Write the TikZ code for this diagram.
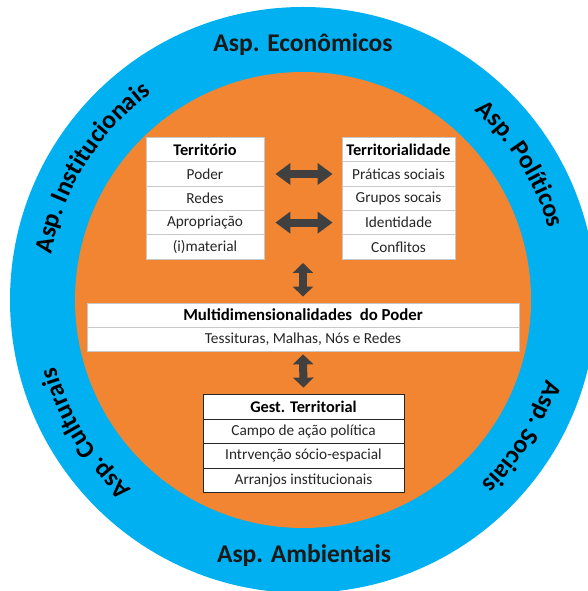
\documentclass[tikz,border=0pt]{standalone}
\usepackage{fontspec}
\setmainfont{Carlito}
\usetikzlibrary{arrows.meta,decorations.text}
\definecolor{ringblue}{HTML}{00B0F0}
\definecolor{coreorange}{HTML}{F28532}
\definecolor{arrowgray}{HTML}{404040}
\definecolor{lightborder}{HTML}{C8C8C8}
\newcommand\curvefont{\fontsize{25.5}{25.5}\selectfont\bfseries}
\tikzset{
  cell/.style={rectangle, draw=lightborder, line width=0.8pt, fill=white, inner sep=0pt,
    font=\fontsize{15.3}{16}\selectfont, text=black!85},
  headcell/.style={cell, font=\fontsize{16.3}{17}\selectfont\bfseries, text=black},
  darkcell/.style={cell, draw=black!85},
  darkhead/.style={headcell, draw=black!85},
  dblarrow/.style={arrowgray, line width=8pt,
    {Triangle[width=21pt,length=15pt]}-{Triangle[width=21pt,length=15pt]}},
  vdblarrow/.style={arrowgray, line width=8pt,
    {Triangle[width=20pt,length=10pt]}-{Triangle[width=20pt,length=10pt]}},
  ringlabel/.style={font=\fontsize{25.5}{25.5}\selectfont\bfseries, text=black!90},
}
\begin{document}
\begin{tikzpicture}[x=1pt,y=1pt]
\useasboundingbox (0,0) rectangle (587,591);
\fill[white] (0,0) rectangle (587,591);
% rings
\fill[ringblue] (303,291) circle[radius=293];
\fill[coreorange] (303,291) circle[radius=228];
% straight ring labels
\node[ringlabel] (econ) at (303,546) {Asp. Econômicos};
\node[ringlabel] (amb) at (304,35) {Asp. Ambientais};
% curved ring labels
\begin{scope}[shift={(303,291)}]
\path[decorate, decoration={text along path, text align=center,
  text={|\curvefont|Asp. Institucionais}}] (198:256) arc[start angle=198, end angle=98, radius=256];
\path[decorate, decoration={text along path, text align=center,
  text={|\curvefont|Asp. Políticos}}] (82:256) arc[start angle=82, end angle=-18, radius=256];
\path[decorate, decoration={text along path, text align=center,
  text={|\curvefont|Asp. Sociais}}] (18:256) arc[start angle=18, end angle=-82, radius=256];
\path[decorate, decoration={text along path, text align=center,
  text={|\curvefont|Asp. Culturais}}] (261.5:256) arc[start angle=261.5, end angle=161.5, radius=256];
\end{scope}
% Territorio box
\begin{scope}[every node/.append style={minimum width=118}]
\node[headcell, minimum height=25] (t0) at (205,441.5) {Território};
\node[cell, minimum height=24.3] (t1) at (205,417) {Poder};
\node[cell, minimum height=24.3] (t2) at (205,392.7) {Redes};
\node[cell, minimum height=24.3] (t3) at (205,368.4) {Apropriação};
\node[cell, minimum height=24.3] (t4) at (205,344.1) {(i)material};
\end{scope}
% Territorialidade box
\begin{scope}[every node/.append style={minimum width=113}]
\node[headcell, minimum height=25] (s0) at (398.5,441.5) {Territorialidade};
\node[cell, minimum height=24.3] (s1) at (398.5,417) {Práticas sociais};
\node[cell, minimum height=24.3] (s2) at (398.5,392.7) {Grupos socais};
\node[cell, minimum height=24.3] (s3) at (398.5,368.4) {Identidade};
\node[cell, minimum height=24.3] (s4) at (398.5,344.1) {Conflitos};
\end{scope}
% Multidimensionalidades box
\node[headcell, minimum width=432, minimum height=24, font=\fontsize{16.8}{17}\selectfont\bfseries] (m1) at (303,276) {Multidimensionalidades\ \ do Poder};
\node[cell, minimum width=432, minimum height=24] (m2) at (303,252) {Tessituras, Malhas, Nós e Redes};
% Gestao territorial box
\begin{scope}[every node/.append style={minimum width=201}]
\node[darkhead, minimum height=25] (g0) at (303.5,184.5) {Gest. Territorial};
\node[darkcell, minimum height=24.5] (g1) at (303.5,159.7) {Campo de ação política};
\node[darkcell, minimum height=24.5] (g2) at (303.5,135.2) {Intrvenção sócio-espacial};
\node[darkcell, minimum height=24.5] (g3) at (303.5,110.7) {Arranjos institucionais};
\end{scope}
% arrows
\coordinate (vtop) at (303,328);
\draw[dblarrow, shorten <=11pt, shorten >=9pt] (t1.east) -- (s1.west);
\draw[dblarrow, shorten <=11pt, shorten >=9pt] (t3.east) -- (s3.west);
\draw[vdblarrow, shorten >=6pt] (vtop) -- (m1.north);
\draw[vdblarrow, shorten <=3pt, shorten >=6pt] (m2.south) -- (g0.north);
\end{tikzpicture}
\end{document}
